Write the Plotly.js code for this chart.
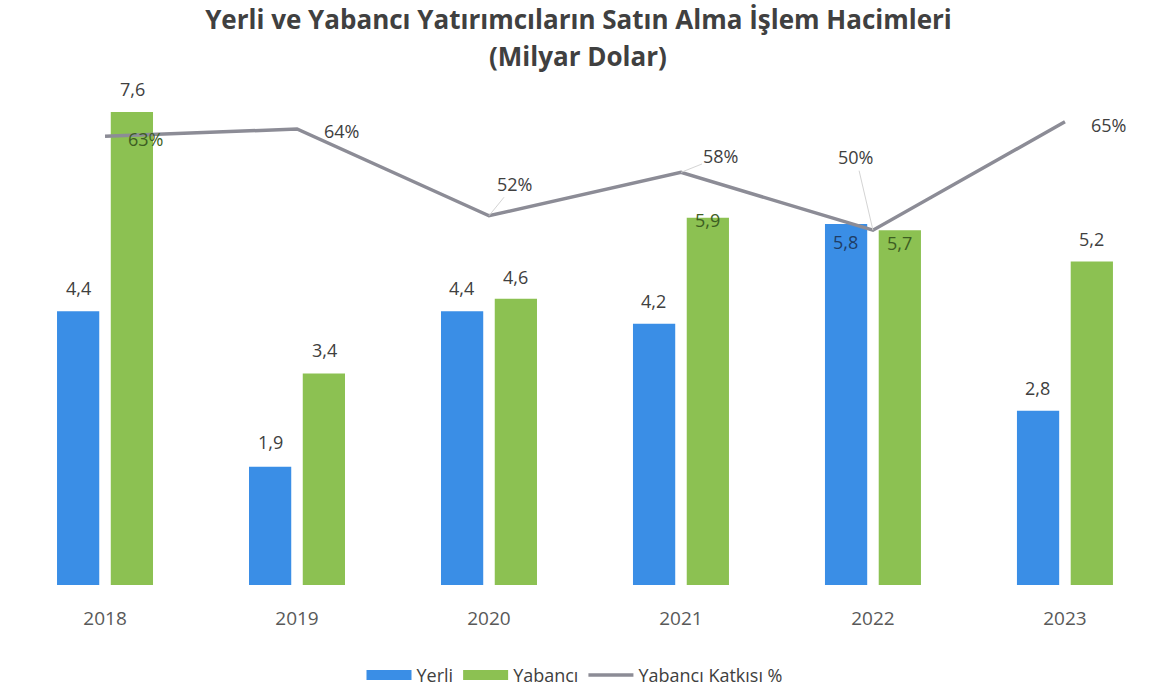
<!DOCTYPE html>
<html>
<head>
<meta charset="utf-8">
<script src="https://cdn.plot.ly/plotly-3.0.1.min.js"></script>
<style>
  html, body { margin: 0; padding: 0; background: #fff; }
  #chart { width: 1150px; height: 694px; }
</style>
</head>
<body>
<div id="chart"></div>
<script>
const years = ['2018', '2019', '2020', '2021', '2022', '2023'];
const yerli = [4.4, 1.9, 4.4, 4.2, 5.8, 2.8];
const yabanci = [7.6, 3.4, 4.6, 5.9, 5.7, 5.2];
const katki = [63, 64, 52, 58, 50, 65];

const FONT = 'Open Sans, sans-serif';
const BLUE = '#3a8ee6';
const GREEN = '#8cc152';
const GREY = '#8c8c96';
const fmt = v => v.toFixed(1).replace('.', ',');

// vertical shift (px) of each bar label from the bar top
const yerliShift = [23, 25, 23, 23, -18, 23];
const yabanciShift = [23, 23, 22, -2, -13, 22];

const hiddenAxis = {
  showgrid: false,
  zeroline: false,
  showline: false,
  showticklabels: false,
  ticks: '',
  fixedrange: true
};

const traceYerli = {
  type: 'bar',
  name: 'Yerli',
  x: years,
  y: yerli,
  width: 0.22,
  offset: -0.25,
  marker: { color: BLUE },
  showlegend: false,
  hoverinfo: 'skip'
};

const traceYabanci = {
  type: 'bar',
  name: 'Yabancı',
  x: years,
  y: yabanci,
  width: 0.22,
  offset: 0.03,
  marker: { color: GREEN },
  showlegend: false,
  hoverinfo: 'skip'
};

const traceKatki = {
  type: 'scatter',
  mode: 'lines',
  name: 'Yabancı Katkısı %',
  x: years,
  y: katki,
  yaxis: 'y2',
  line: { color: GREY, width: 3.5 },
  hoverinfo: 'skip'
};

// legend-only entries so the bar keys come out as wide blocks like the original
const legendKey = (name, color) => ({
  type: 'scatter',
  mode: 'lines',
  name: name,
  x: [null],
  y: [null],
  line: { color: color, width: 11 },
  hoverinfo: 'skip'
});

// category axis: annotations use the category index
const barLabels = (vals, shifts, xshift, insideColor) => vals.map((v, i) => ({
  x: i,
  y: v,
  xref: 'x',
  yref: 'y',
  xshift: xshift,
  yshift: shifts[i],
  yanchor: 'middle',
  text: fmt(v),
  showarrow: false,
  font: { family: FONT, size: 18, color: shifts[i] < 5 ? insideColor : '#404040' }
}));

// per-point label offsets (px) for the percentage labels
const pctShift = [
  { ax: 40, ay: 3, arrow: false },
  { ax: 44, ay: 2, arrow: false },
  { ax: 26, ay: -32, arrow: true },
  { ax: 40, ay: -16, arrow: true },
  { ax: -17, ay: -73, arrow: true },
  { ax: 44, ay: 3, arrow: false }
];

const pctLabels = katki.map((v, i) => ({
  x: i,
  y: v,
  xref: 'x',
  yref: 'y2',
  text: v + '%',
  showarrow: true,
  arrowhead: 0,
  arrowwidth: 1,
  arrowcolor: pctShift[i].arrow ? '#d4d4d4' : 'rgba(255,255,255,0)',
  standoff: 0,
  ax: pctShift[i].ax,
  ay: pctShift[i].ay,
  font: { family: FONT, size: 18, color: i === 0 ? '#3d5e22' : '#404040' }
}));

const layout = {
  width: 1150,
  height: 694,
  paper_bgcolor: '#ffffff',
  plot_bgcolor: '#ffffff',
  margin: { l: 0, r: 0, t: 90, b: 106 },
  title: {
    text: '<b>Yerli ve Yabancı Yatırımcıların Satın Alma İşlem Hacimleri</b>',
    font: { family: FONT, size: 26, color: '#404040' },
    x: 0.503,
    xanchor: 'center',
    y: 0.971,
    yanchor: 'middle'
  },
  barmode: 'overlay',
  showlegend: true,
  legend: {
    orientation: 'h',
    x: 0.5,
    xanchor: 'center',
    y: -0.145,
    yanchor: 'top',
    font: { family: FONT, size: 18, color: '#404040' },
    itemwidth: 45,
    traceorder: 'normal'
  },
  xaxis: {
    type: 'category',
    range: [-0.547, 5.443],
    showgrid: false,
    zeroline: false,
    showline: false,
    ticks: 'outside',
    ticklen: 16,
    tickcolor: 'rgba(255,255,255,0)',
    tickfont: { family: FONT, size: 19, color: '#595959' },
    fixedrange: true
  },
  yaxis: Object.assign({ range: [0, 7.955] }, hiddenAxis),
  yaxis2: Object.assign({ overlaying: 'y', side: 'right', range: [0.9, 69.4] }, hiddenAxis),
  annotations: [
    {
      text: '<b>(Milyar Dolar)</b>',
      xref: 'paper',
      yref: 'paper',
      x: 0.503,
      y: 1,
      yshift: 34,
      xanchor: 'center',
      yanchor: 'middle',
      showarrow: false,
      font: { family: FONT, size: 26, color: '#404040' }
    }
  ].concat(
    barLabels(yerli, yerliShift, -27, '#1f3d66'),
    barLabels(yabanci, yabanciShift, 27, '#3d5e22'),
    pctLabels
  )
};

const traces = [
  traceYerli,
  traceYabanci,
  legendKey('Yerli', BLUE),
  legendKey('Yabancı', GREEN),
  traceKatki
];

Plotly.newPlot('chart', traces, layout, { displayModeBar: false, staticPlot: true });
</script>
</body>
</html>
